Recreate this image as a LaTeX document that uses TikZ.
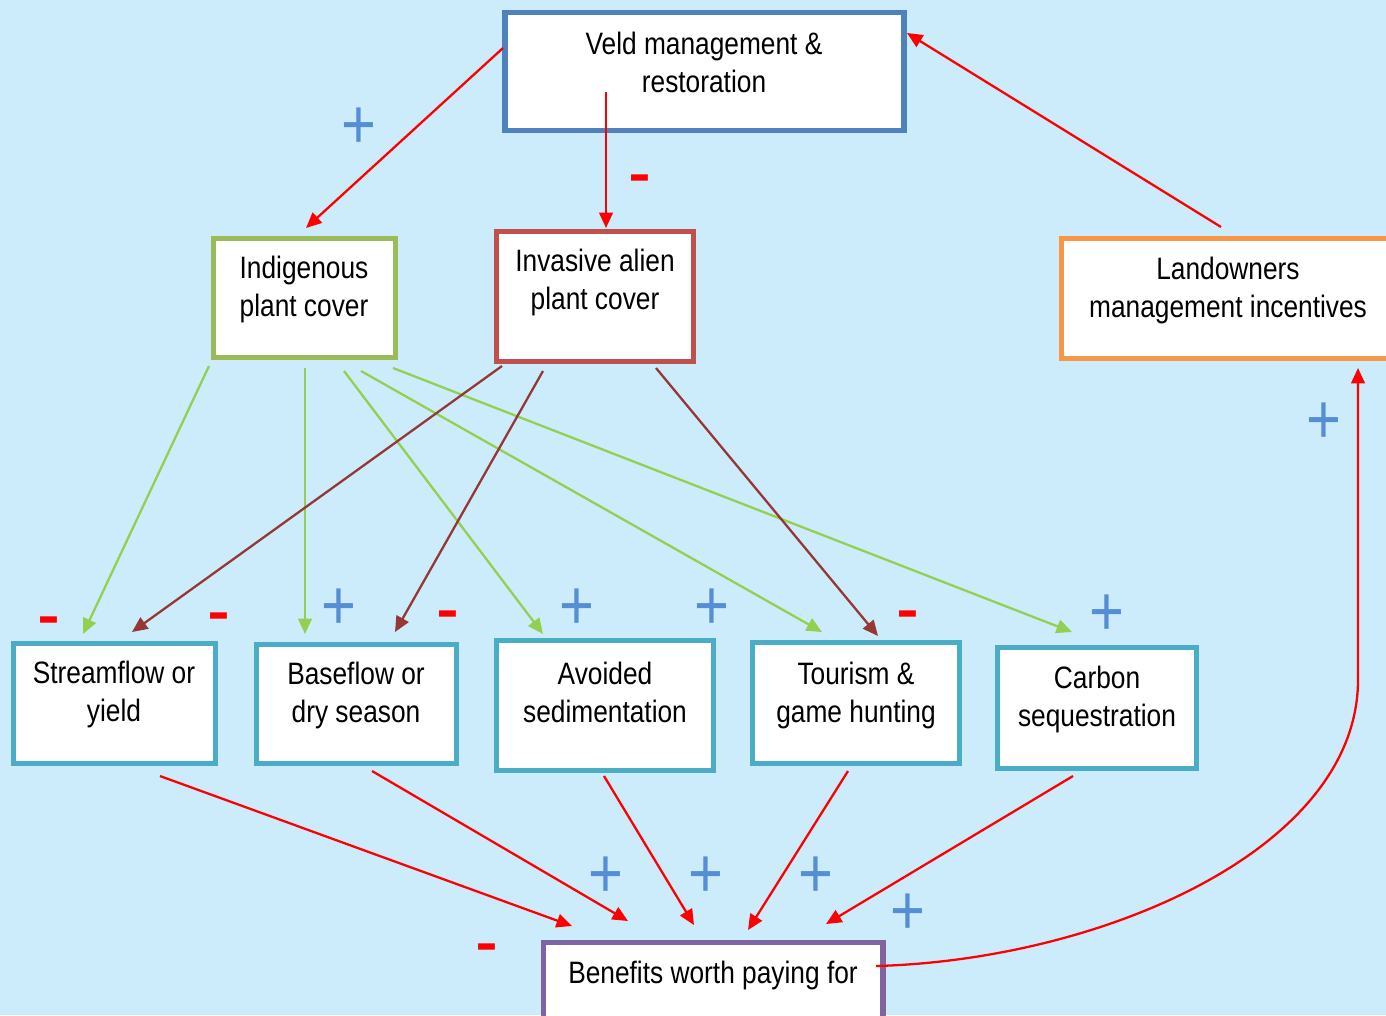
\documentclass[tikz,border=0pt]{standalone}
\usepackage{fontspec}
\setmainfont[FakeStretch=0.85]{Liberation Sans}
\usetikzlibrary{arrows.meta,calc}

\definecolor{skyback}{HTML}{CCECFC}
\definecolor{veldblue}{HTML}{4F81BD}
\definecolor{indgreen}{HTML}{9BBB59}
\definecolor{invred}{HTML}{C0504D}
\definecolor{landorange}{HTML}{F79646}
\definecolor{outteal}{HTML}{4BACC6}
\definecolor{benpurple}{HTML}{8064A2}
\definecolor{arrgreen}{HTML}{92D050}
\definecolor{arrbrown}{HTML}{953735}
\definecolor{plusblue}{HTML}{558ED5}

\tikzset{
	box/.style={draw, fill=white, line width=1.65pt, inner sep=0pt},
	txt/.style={align=center, inner sep=0pt, font=\fontsize{8.8}{10.8}\selectfont},
	link/.style={line width=0.65pt, -{Triangle[length=4.4pt,width=3.9pt]}},
	plussign/.style={text=plusblue, inner sep=0pt, font=\fontsize{20}{20}\selectfont},
	minussign/.style={text=red, inner sep=0pt, font=\fontsize{23}{23}\selectfont},
}

\begin{document}
\begin{tikzpicture}[x=0.01cm, y=-0.01cm]
	\clip (0,0) rectangle (1386,1015);
	\fill[skyback] (0,0) rectangle (1386,1015);

	% boxes
	\node (veld)   at ( 704.5,  71.5)	[box, draw=veldblue,   minimum width=3.98cm, minimum height=1.18cm]	{};
	\node (ind)    at ( 304.5, 298)		[box, draw=indgreen,   minimum width=1.82cm, minimum height=1.19cm]	{};
	\node (inv)    at ( 595,   296.5)	[box, draw=invred,     minimum width=1.97cm, minimum height=1.30cm]	{};
	\node (land)   at (1228,   298.5)	[box, draw=landorange, minimum width=3.33cm, minimum height=1.20cm]	{};
	\node (stream) at ( 114.5, 703.5)	[box, draw=outteal,    minimum width=2.02cm, minimum height=1.20cm]	{};
	\node (base)   at ( 356.5, 704)		[box, draw=outteal,    minimum width=2.00cm, minimum height=1.19cm]	{};
	\node (avoid)  at ( 605,   705.5)	[box, draw=outteal,    minimum width=2.17cm, minimum height=1.30cm]	{};
	\node (tour)   at ( 856,   703)		[box, draw=outteal,    minimum width=2.07cm, minimum height=1.21cm]	{};
	\node (carbon) at (1097,   708)		[box, draw=outteal,    minimum width=1.99cm, minimum height=1.21cm]	{};
	\node (ben)    at ( 713,   985)		[box, draw=benpurple,  minimum width=3.39cm, minimum height=0.85cm]	{};

	% box texts
	\node (veldtxt)   at ( 704,  62)	[txt]	{Veld management \&\\restoration};
	\node (indtxt)    at ( 304, 289.5)	[txt]	{Indigenous\\plant cover};
	\node (invtxt)    at ( 595, 282.5)	[txt]	{Invasive alien\\plant cover};
	\node (landtxt)   at (1228, 290.5)	[txt]	{Landowners\\management incentives};
	\node (streamtxt) at ( 114, 694.5)	[txt]	{Streamflow or\\yield};
	\node (basetxt)   at ( 356, 695.5)	[txt]	{Baseflow or\\dry season};
	\node (avoidtxt)  at ( 605, 692)	[txt]	{Avoided\\sedimentation};
	\node (tourtxt)   at ( 856, 695)	[txt]	{Tourism \&\\game hunting};
	\node (carbontxt) at (1097, 699.5)	[txt]	{Carbon\\sequestration};
	\node (bentxt)    at ( 713, 975.5)	[txt]	{Benefits worth paying for};

	% management links
	\draw[link, red] ($(veld)+(-201.5,-23.5)$) -- ($(ind)+(1.5,-70)$);
	\draw[link, red] ($(veld)+(-98.5,20.5)$) -- ($(inv)+(11,-68.5)$);
	\draw[link, red] ($(land)+(-7,-71.5)$) -- ($(veld)+(202.5,-38.5)$);
	\draw[link, red] ($(ben)+(163,-19)$) .. controls ($(ben)+(387,-25)$) and ($(land)+(130,551.5)$) .. ($(land)+(130,381)$) -- ($(land)+(130,69.5)$);

	% indigenous cover
	\draw[link, arrgreen] ($(ind)+(-95.5,68)$) -- ($(stream)+(-31.5,-69.5)$);
	\draw[link, arrgreen] ($(ind)+(0.5,70)$)   -- ($(base)+(-51.5,-70)$);
	\draw[link, arrgreen] ($(ind)+(39.5,73)$)  -- ($(avoid)+(-62,-71.5)$);
	\draw[link, arrgreen] ($(ind)+(56.5,73)$)  -- ($(tour)+(-34,-71)$);
	\draw[link, arrgreen] ($(ind)+(88.5,70)$)  -- ($(carbon)+(-25,-76)$);

	% invasive cover
	\draw[link, arrbrown] ($(inv)+(-93,69.5)$) -- ($(stream)+(17.5,-71.5)$);
	\draw[link, arrbrown] ($(inv)+(-52,74.5)$) -- ($(base)+(38.5,-72)$);
	\draw[link, arrbrown] ($(inv)+(61,71.5)$)  -- ($(tour)+(22,-67)$);

	% benefits
	\draw[link, red] ($(stream)+(45.5,72.5)$) -- ($(ben)+(-141,-59)$);
	\draw[link, red] ($(base)+(15.5,67)$)     -- ($(ben)+(-85,-64)$);
	\draw[link, red] ($(avoid)+(-1,70.5)$)    -- ($(ben)+(-19,-60)$);
	\draw[link, red] ($(tour)+(-8,68)$)       -- ($(ben)+(35,-55)$);
	\draw[link, red] ($(carbon)+(-24,68)$)    -- ($(ben)+(113,-61)$);

	% signs
	\node (p1)  at ( 359, 128)	[plussign]	{+};
	\node (p2)  at ( 339, 609)	[plussign]	{+};
	\node (p3)  at ( 577, 609)	[plussign]	{+};
	\node (p4)  at ( 712, 609)	[plussign]	{+};
	\node (p5)  at (1107, 615)	[plussign]	{+};
	\node (p6)  at (1324, 423)	[plussign]	{+};
	\node (p7)  at ( 606, 877)	[plussign]	{+};
	\node (p8)  at ( 706, 877)	[plussign]	{+};
	\node (p9)  at ( 816, 877)	[plussign]	{+};
	\node (p10) at ( 908, 914)	[plussign]	{+};
	\node (m1)  at ( 640, 187)	[minussign]	{-};
	\node (m2)  at (  49, 629)	[minussign]	{-};
	\node (m3)  at ( 219, 625)	[minussign]	{-};
	\node (m4)  at ( 448, 623)	[minussign]	{-};
	\node (m5)  at ( 908, 623)	[minussign]	{-};
	\node (m6)  at ( 487, 956)	[minussign]	{-};
\end{tikzpicture}
\end{document}
